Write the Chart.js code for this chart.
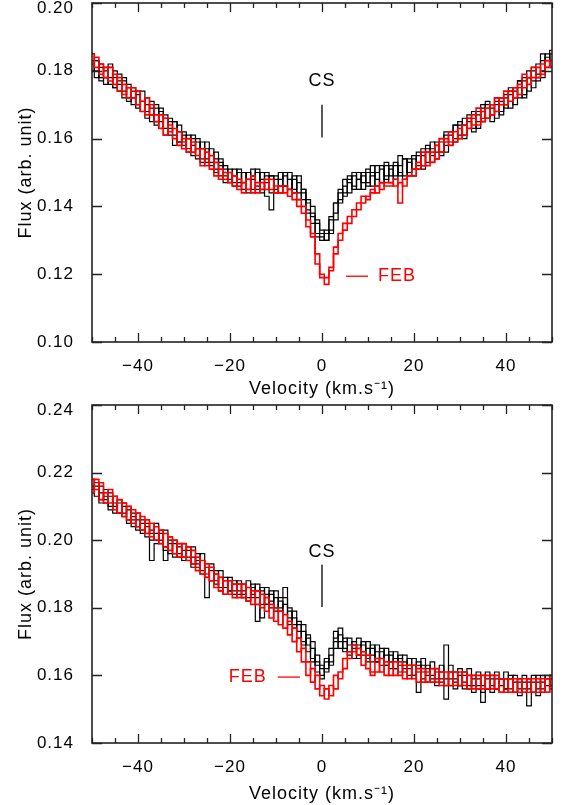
<!DOCTYPE html>
<html>
<head>
<meta charset="utf-8">
<script src="https://cdn.jsdelivr.net/npm/chart.js@4.4.1/dist/chart.umd.min.js"></script>
<style>
  body { margin: 0; background: #fff; }
  #wrap { position: relative; width: 567px; height: 805px; }
  canvas { position: absolute; left: 0; }
  #top-chart { top: 0; }
  #bottom-chart { top: 400px; }
</style>
</head>
<body>
<div id="wrap">
  <canvas id="top-chart" width="567" height="400"></canvas>
  <canvas id="bottom-chart" width="567" height="405"></canvas>
</div>
<script>
// velocity bins (km/s)
const velocity = [-50,-49,-48,-47,-46,-45,-44,-43,-42,-41,-40,-39,-38,-37,-36,-35,-34,-33,-32,-31,
  -30,-29,-28,-27,-26,-25,-24,-23,-22,-21,-20,-19,-18,-17,-16,-15,-14,-13,-12,-11,
  -10,-9,-8,-7,-6,-5,-4,-3,-2,-1,0,1,2,3,4,5,6,7,8,9,10,11,12,13,14,15,16,17,18,19,
  20,21,22,23,24,25,26,27,28,29,30,31,32,33,34,35,36,37,38,39,40,41,42,43,44,45,46,47,48,49,50];

const xTickLabels = [-40, -20, 0, 20, 40];
const topYTicks = [0.10, 0.12, 0.14, 0.16, 0.18, 0.20];
const bottomYTicks = [0.14, 0.16, 0.18, 0.20, 0.22, 0.24];

// top panel, black spectra
const topBlack1 = [.185,.180,.177,.181,.182,.175,.176,.178,.171,.174,
  .169,.174,.170,.165,.169,.165,.161,.165,.165,.159,
  .161,.156,.161,.157,.154,.159,.153,.150,.153,.151,
  .147,.151,.147,.150,.144,.148,.151,.145,.147,.149,
  .144,.148,.150,.145,.148,.144,.145,.138,.138,.132,
  .130,.133,.132,.141,.142,.148,.147,.145,.150,.147,
  .150,.146,.150,.152,.148,.152,.149,.155,.149,.153,
  .149,.155,.155,.153,.159,.156,.160,.156,.161,.164,
  .160,.164,.167,.162,.168,.165,.171,.169,.166,.172,
  .172,.169,.175,.177,.173,.178,.175,.182,.185,.181,.185];
const topBlack2 = [.180,.183,.181,.176,.178,.180,.174,.174,.176,.170,
  .174,.168,.168,.171,.164,.168,.166,.161,.158,.164,
  .159,.161,.155,.160,.157,.153,.157,.154,.149,.149,
  .151,.146,.150,.145,.150,.145,.146,.150,.143,.139,
  .149,.144,.146,.150,.144,.149,.142,.141,.135,.135,
  .132,.130,.136,.136,.145,.144,.148,.150,.145,.149,
  .146,.152,.148,.147,.152,.147,.153,.149,.154,.150,
  .154,.151,.157,.156,.153,.159,.155,.161,.159,.159,
  .165,.161,.163,.168,.163,.169,.166,.167,.172,.167,
  .173,.173,.170,.175,.178,.174,.180,.178,.180,.185,.181];
const topBlack3 = [.182,.178,.182,.180,.176,.178,.179,.172,.175,.175,
  .170,.168,.172,.169,.165,.169,.163,.166,.161,.162,
  .158,.160,.160,.154,.159,.154,.152,.156,.152,.147,
  .150,.147,.146,.150,.148,.151,.145,.148,.149,.144,
  .148,.150,.146,.145,.149,.142,.144,.142,.140,.131,
  .131,.130,.137,.138,.144,.143,.149,.146,.148,.145,
  .151,.150,.146,.151,.149,.151,.148,.152,.154,.150,
  .155,.152,.152,.158,.155,.158,.156,.162,.162,.160,
  .161,.166,.165,.163,.167,.170,.166,.170,.170,.168,
  .170,.175,.174,.172,.177,.180,.177,.177,.183,.183,.186];
const topBlack4 = [.183,.183,.178,.178,.181,.175,.177,.177,.172,.172,
  .173,.171,.166,.167,.170,.163,.167,.163,.165,.159,
  .162,.157,.158,.159,.153,.157,.155,.151,.154,.152,
  .148,.149,.151,.147,.145,.149,.150,.144,.150,.149,
  .145,.146,.149,.148,.145,.147,.145,.139,.137,.136,
  .133,.132,.133,.141,.141,.146,.144,.149,.148,.150,
  .147,.149,.152,.147,.153,.149,.152,.150,.148,.154,
  .151,.156,.151,.157,.157,.154,.159,.158,.158,.164,
  .164,.160,.166,.166,.165,.166,.170,.165,.171,.171,
  .169,.174,.172,.177,.172,.178,.181,.179,.178,.184,.183];
// top panel, red (FEB) spectra
const topRed1 = [.185,.181,.182,.178,.181,.176,.178,.173,.175,.172,
  .174,.168,.172,.167,.167,.163,.166,.162,.163,.158,
  .160,.156,.159,.155,.157,.152,.155,.149,.151,.148,
  .150,.146,.148,.144,.148,.144,.147,.145,.148,.145,
  .146,.144,.146,.143,.144,.140,.140,.134,.131,.123,
  .119,.117,.121,.126,.130,.133,.137,.137,.141,.141,
  .143,.145,.144,.147,.146,.146,.148,.141,.148,.149,
  .151,.151,.156,.152,.156,.154,.160,.159,.162,.159,
  .163,.161,.166,.164,.169,.165,.169,.167,.172,.170,
  .174,.171,.175,.173,.179,.176,.181,.178,.182,.181,.183];
const topRed2 = [.182,.184,.179,.181,.177,.179,.174,.176,.172,.175,
  .170,.171,.167,.170,.165,.167,.161,.164,.160,.162,
  .157,.160,.156,.157,.152,.156,.151,.153,.148,.150,
  .147,.149,.145,.147,.145,.149,.144,.147,.145,.148,
  .144,.146,.144,.145,.142,.142,.138,.136,.132,.126,
  .120,.119,.122,.128,.132,.135,.135,.139,.139,.143,
  .142,.144,.146,.145,.147,.147,.146,.147,.146,.149,
  .149,.153,.152,.156,.153,.158,.156,.160,.158,.162,
  .160,.164,.163,.167,.164,.168,.166,.170,.168,.172,
  .170,.174,.172,.176,.175,.178,.178,.181,.179,.183,.181];

// bottom panel, black spectra
const bottomBlack1 = [.218,.213,.216,.211,.214,.208,.212,.207,.210,.204,
  .208,.202,.205,.200,.205,.199,.203,.196,.200,.195,
  .199,.194,.198,.192,.196,.189,.193,.187,.191,.184,
  .189,.184,.188,.183,.188,.183,.187,.181,.186,.180,
  .185,.179,.183,.175,.179,.171,.175,.167,.170,.161,
  .160,.165,.163,.171,.172,.167,.171,.165,.171,.166,
  .170,.164,.169,.163,.168,.162,.167,.161,.166,.160,
  .165,.155,.165,.158,.164,.157,.163,.157,.163,.156,
  .162,.156,.162,.155,.161,.155,.161,.155,.161,.155,
  .161,.155,.160,.154,.160,.151,.160,.154,.160,.155,.160];
const bottomBlack2 = [.214,.217,.211,.215,.209,.213,.208,.211,.205,.208,
  .203,.206,.201,.194,.199,.203,.197,.201,.195,.199,
  .194,.198,.192,.196,.190,.183,.188,.191,.185,.189,
  .185,.188,.184,.187,.182,.187,.176,.186,.181,.185,
  .179,.183,.186,.180,.174,.176,.169,.172,.164,.166,
  .163,.161,.168,.173,.168,.171,.166,.170,.166,.170,
  .165,.169,.164,.168,.163,.167,.162,.166,.161,.165,
  .160,.164,.159,.163,.159,.162,.158,.169,.157,.161,
  .157,.161,.156,.160,.157,.160,.156,.160,.156,.159,
  .156,.160,.155,.159,.156,.159,.155,.160,.156,.160,.156];
const bottomBlack3 = [.216,.215,.212,.213,.210,.211,.208,.210,.206,.207,
  .204,.205,.202,.203,.200,.202,.198,.200,.196,.198,
  .195,.197,.193,.194,.191,.192,.188,.190,.186,.188,
  .185,.187,.185,.185,.183,.186,.183,.185,.181,.184,
  .180,.182,.178,.179,.175,.175,.170,.171,.165,.163,
  .159,.162,.164,.168,.174,.168,.167,.169,.165,.169,
  .164,.168,.164,.167,.163,.166,.162,.165,.162,.163,
  .160,.163,.161,.162,.160,.161,.159,.153,.159,.159,
  .157,.160,.157,.159,.156,.152,.156,.159,.156,.159,
  .156,.159,.155,.158,.155,.158,.155,.158,.155,.159,.157];
const bottomBlack4 = [.215,.216,.214,.212,.213,.210,.211,.208,.209,.206,
  .206,.203,.204,.202,.202,.200,.194,.199,.199,.196,
  .197,.195,.195,.193,.194,.190,.191,.188,.189,.186,
  .188,.185,.187,.184,.186,.184,.185,.177,.184,.182,
  .183,.180,.181,.177,.177,.173,.173,.169,.168,.164,
  .162,.164,.166,.170,.170,.170,.169,.168,.169,.167,
  .168,.166,.167,.165,.166,.164,.165,.163,.164,.162,
  .163,.161,.163,.160,.162,.159,.161,.159,.161,.158,
  .160,.158,.160,.157,.159,.157,.159,.157,.159,.157,
  .159,.156,.158,.156,.158,.156,.158,.156,.158,.157,.159];
// bottom panel, red (FEB) spectra
const bottomRed1 = [.218,.215,.217,.211,.215,.209,.212,.207,.210,.205,
  .208,.203,.206,.201,.204,.199,.202,.197,.200,.195,
  .199,.194,.197,.191,.194,.189,.192,.186,.189,.184,
  .188,.183,.187,.183,.186,.181,.185,.180,.183,.177,
  .180,.175,.178,.172,.174,.167,.168,.160,.162,.156,
  .157,.153,.157,.156,.161,.162,.167,.167,.168,.163,
  .166,.161,.165,.161,.164,.160,.164,.160,.163,.159,
  .163,.158,.162,.158,.162,.158,.161,.157,.161,.157,
  .161,.157,.160,.156,.160,.156,.160,.156,.160,.155,
  .159,.155,.159,.155,.159,.155,.159,.155,.159,.155,.160];
const bottomRed2 = [.214,.218,.212,.214,.211,.213,.208,.211,.206,.209,
  .204,.207,.202,.205,.200,.203,.198,.201,.196,.199,
  .195,.198,.193,.195,.190,.193,.188,.190,.185,.188,
  .184,.187,.183,.187,.182,.185,.181,.184,.179,.181,
  .176,.179,.174,.176,.170,.171,.164,.164,.158,.160,
  .154,.156,.154,.160,.159,.165,.165,.169,.166,.167,
  .162,.160,.161,.165,.160,.164,.160,.164,.159,.163,
  .159,.162,.158,.161,.158,.162,.157,.161,.157,.161,
  .157,.161,.156,.160,.156,.160,.156,.160,.156,.159,
  .155,.159,.155,.159,.155,.159,.155,.159,.155,.159,.156];

const FONT = 'Liberation Sans, Arial, Helvetica, sans-serif';

const toPoints = arr => velocity.map((v, i) => ({ x: v, y: arr[i] }));

const spectrum = (arr, color, width) => ({
  data: toPoints(arr),
  borderColor: color,
  borderWidth: width,
  stepped: 'middle',
  pointRadius: 0,
  fill: false
});

// wider IDL-like letter spacing for every label
const spacing = {
  id: 'spacing',
  beforeDraw(chart) { chart.ctx.letterSpacing = '1px'; }
};

// inward ticks on all four sides plus the box, IDL style
const frameTicks = {
  id: 'frameTicks',
  afterDatasetsDraw(chart, args, opts) {
    const { ctx, chartArea: a, scales: { x, y } } = chart;
    ctx.save();
    ctx.strokeStyle = '#222';
    ctx.lineWidth = 1.6;
    ctx.strokeRect(a.left, a.top, a.right - a.left, a.bottom - a.top);
    ctx.lineWidth = 1.3;
    ctx.beginPath();
    for (let v = -50; v <= 50; v += 5) {
      const px = Math.round(x.getPixelForValue(v)) + 0.5;
      const len = v % 20 === 0 ? 9 : 5;
      ctx.moveTo(px, a.bottom); ctx.lineTo(px, a.bottom - len);
      ctx.moveTo(px, a.top); ctx.lineTo(px, a.top + len);
    }
    opts.yTicks.forEach(v => {
      const py = Math.round(y.getPixelForValue(v)) + 0.5;
      ctx.moveTo(a.left, py); ctx.lineTo(a.left + 10, py);
      ctx.moveTo(a.right, py); ctx.lineTo(a.right - 10, py);
    });
    ctx.stroke();

    // CS marker and FEB label
    const m = opts.marks;
    ctx.font = '18px ' + FONT;
    ctx.letterSpacing = '1px';
    ctx.fillStyle = '#000';
    ctx.textAlign = 'center';
    ctx.textBaseline = 'middle';
    ctx.fillText('CS', x.getPixelForValue(0), y.getPixelForValue(m.csText));
    ctx.strokeStyle = '#000';
    ctx.lineWidth = 1.3;
    ctx.beginPath();
    ctx.moveTo(x.getPixelForValue(0), y.getPixelForValue(m.csLine[0]));
    ctx.lineTo(x.getPixelForValue(0), y.getPixelForValue(m.csLine[1]));
    ctx.stroke();
    ctx.strokeStyle = '#ff0000';
    ctx.fillStyle = '#ff0000';
    const fy = y.getPixelForValue(m.febY);
    ctx.beginPath();
    ctx.moveTo(x.getPixelForValue(m.febLine[0]), fy);
    ctx.lineTo(x.getPixelForValue(m.febLine[1]), fy);
    ctx.stroke();
    ctx.textAlign = m.febAlign;
    ctx.fillText('FEB', x.getPixelForValue(m.febText), fy);
    ctx.restore();
  }
};

function makePanel(canvasId, datasets, yMin, yMax, yTicks, areaTop, areaBottom, marks) {
  const canvas = document.getElementById(canvasId);
  const tickFont = { family: FONT, size: 17 };
  return new Chart(canvas, {
    type: 'line',
    data: { datasets },
    plugins: [spacing, frameTicks],
    options: {
      responsive: false,
      animation: false,
      layout: { padding: { left: 0, right: 15, top: areaTop, bottom: 0 } },
      plugins: {
        legend: { display: false },
        tooltip: { enabled: false },
        frameTicks: { yTicks, marks }
      },
      scales: {
        x: {
          type: 'linear',
          min: -50, max: 50,
          afterFit: s => {
            s.height = canvas.height - areaBottom;
            s.paddingLeft = 0; s.paddingRight = 0;
          },
          afterBuildTicks: s => { s.ticks = xTickLabels.map(v => ({ value: v })); },
          grid: { display: false },
          border: { display: false },
          ticks: {
            color: '#000', padding: 6, maxRotation: 0,
            font: tickFont,
            callback: v => (v < 0 ? '\u2212' + Math.abs(v) : String(v))
          },
          title: {
            display: true, text: 'Velocity (km.s\u207B\u00B9)', color: '#000',
            font: { family: FONT, size: 18 }, padding: { top: 0, bottom: 0 }
          }
        },
        y: {
          type: 'linear',
          min: yMin, max: yMax,
          afterFit: s => {
            s.width = 92;
            s.paddingTop = 0; s.paddingBottom = 0;
          },
          afterBuildTicks: s => { s.ticks = yTicks.map(v => ({ value: v })); },
          grid: { display: false },
          border: { display: false },
          ticks: {
            color: '#000', padding: 10,
            // the topmost label sits a little below its tick, as in the original
            font: c => (c.tick && Math.abs(c.tick.value - yMax) < 1e-9
              ? { family: FONT, size: 17, lineHeight: 0.6 } : tickFont),
            callback: v => (Math.abs(v - yMax) < 1e-9 ? ['', v.toFixed(2)] : v.toFixed(2))
          },
          title: {
            display: true, text: 'Flux (arb. unit)', color: '#000',
            font: { family: FONT, size: 18 }, padding: { top: 15, bottom: 0 }
          }
        }
      }
    }
  });
}

makePanel('top-chart', [
  spectrum(topRed1, '#ff0000', 1.6),
  spectrum(topRed2, '#ff0000', 1.6),
  spectrum(topBlack1, '#000', 1.2),
  spectrum(topBlack2, '#000', 1.2),
  spectrum(topBlack3, '#000', 1.2),
  spectrum(topBlack4, '#000', 1.2)
], 0.10, 0.20, topYTicks, 3, 342,
{ csText: 0.1771, csLine: [0.1603, 0.1700], febY: 0.1194, febLine: [5.2, 10.0], febText: 12.2, febAlign: 'left' });

makePanel('bottom-chart', [
  spectrum(bottomRed1, '#ff0000', 1.6),
  spectrum(bottomRed2, '#ff0000', 1.6),
  spectrum(bottomBlack1, '#000', 1.2),
  spectrum(bottomBlack2, '#000', 1.2),
  spectrum(bottomBlack3, '#000', 1.2),
  spectrum(bottomBlack4, '#000', 1.2)
], 0.14, 0.24, bottomYTicks, 5, 343,
{ csText: 0.1965, csLine: [0.1802, 0.1927], febY: 0.1595, febLine: [-9.6, -4.8], febText: -12.0, febAlign: 'right' });
</script>
</body>
</html>
